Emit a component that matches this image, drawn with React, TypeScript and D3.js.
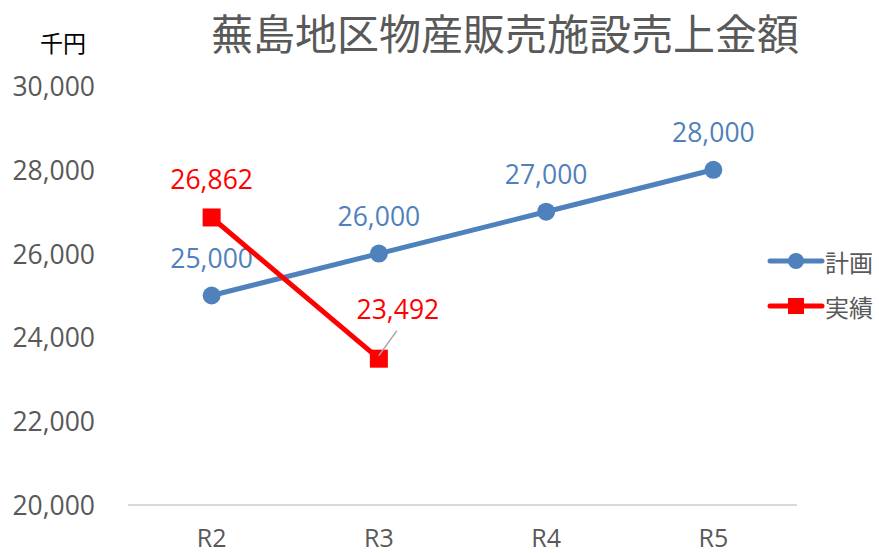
import React from 'react';
import * as d3 from 'd3';

const categories = ['R2', 'R3', 'R4', 'R5'];
const planValues = [25000, 26000, 27000, 28000];
const actualValues = [26862, 23492];
const yTicks = [20000, 22000, 24000, 26000, 28000, 30000];

const W = 879;
const H = 553;
const FONT = '"Open Sans", "Noto Sans CJK JP", sans-serif';
const JP = '"Noto Sans CJK JP", sans-serif';
const BLUE = '#4f81bd';
const RED = '#ff0000';
const GREY = '#595959';
const FS = 26.5;

const App = () => {
  const x = d3.scaleBand<string>().domain(categories).range([128, 797]);
  const y = d3.scaleLinear().domain([20000, 30000]).range([505, 86]);
  const cx = (c: string) => (x(c) as number) + x.bandwidth() / 2;
  const fmt = d3.format(',');

  const planPts = planValues.map((v, i) => ({ c: categories[i], v }));
  const actualPts = actualValues.map((v, i) => ({ c: categories[i], v }));
  const line = d3
    .line<{ c: string; v: number }>()
    .x((d) => cx(d.c))
    .y((d) => y(d.v));

  return (
    <svg width={W} height={H} style={{ position: 'absolute', left: 0, top: 0 }} fontFamily={FONT}>
      <rect width={W} height={H} fill="#fff" />
      <text x={505} y={31} textAnchor="middle" dominantBaseline="central" fontSize={42} fill={GREY} fontFamily={JP}>
        蕪島地区物産販売施設売上金額
      </text>
      <text x={63} y={42} textAnchor="middle" dominantBaseline="central" fontSize={23} fill="#000" fontFamily={JP}>
        千円
      </text>
      {yTicks.map((t) => (
        <text key={t} x={95} y={y(t)} textAnchor="end" dominantBaseline="central" fontSize={FS} fill={GREY}>
          {fmt(t)}
        </text>
      ))}
      <line x1={128} x2={797} y1={y(20000)} y2={y(20000)} stroke="#d9d9d9" strokeWidth={2} />
      {categories.map((c) => (
        <text key={c} x={cx(c)} y={537} textAnchor="middle" dominantBaseline="central" fontSize={25} fill={GREY}>
          {c}
        </text>
      ))}

      <path d={line(planPts) as string} fill="none" stroke={BLUE} strokeWidth={5} strokeLinecap="round" />
      {planPts.map((d) => (
        <g key={d.c}>
          <circle cx={cx(d.c)} cy={y(d.v)} r={9} fill={BLUE} />
          <text x={cx(d.c)} y={y(d.v) - 38} textAnchor="middle" dominantBaseline="central" fontSize={FS} fill={BLUE}>
            {fmt(d.v)}
          </text>
        </g>
      ))}

      <path d={line(actualPts) as string} fill="none" stroke={RED} strokeWidth={5} />
      {actualPts.map((d) => (
        <rect key={d.c} x={cx(d.c) - 9} y={y(d.v) - 9} width={18} height={18} fill={RED} />
      ))}
      <text x={cx('R2')} y={y(actualValues[0]) - 38} textAnchor="middle" dominantBaseline="central" fontSize={FS} fill={RED}>
        {fmt(actualValues[0])}
      </text>
      <line x1={cx('R3')} y1={y(actualValues[1]) - 3} x2={cx('R3') + 18} y2={y(actualValues[1]) - 28} stroke="#a6a6a6" strokeWidth={1.5} />
      <text x={cx('R3') + 19} y={y(actualValues[1]) - 50} textAnchor="middle" dominantBaseline="central" fontSize={FS} fill={RED}>
        {fmt(actualValues[1])}
      </text>

      <line x1={770} x2={822} y1={261} y2={261} stroke={BLUE} strokeWidth={5} strokeLinecap="round" />
      <circle cx={796} cy={261} r={8} fill={BLUE} />
      <text x={825} y={261} dominantBaseline="central" fontSize={24} fill={GREY} fontFamily={JP}>計画</text>
      <line x1={770} x2={822} y1={306} y2={306} stroke={RED} strokeWidth={5} strokeLinecap="round" />
      <rect x={788} y={298} width={16} height={16} fill={RED} />
      <text x={825} y={306} dominantBaseline="central" fontSize={24} fill={GREY} fontFamily={JP}>実績</text>
    </svg>
  );
};

export default App;
